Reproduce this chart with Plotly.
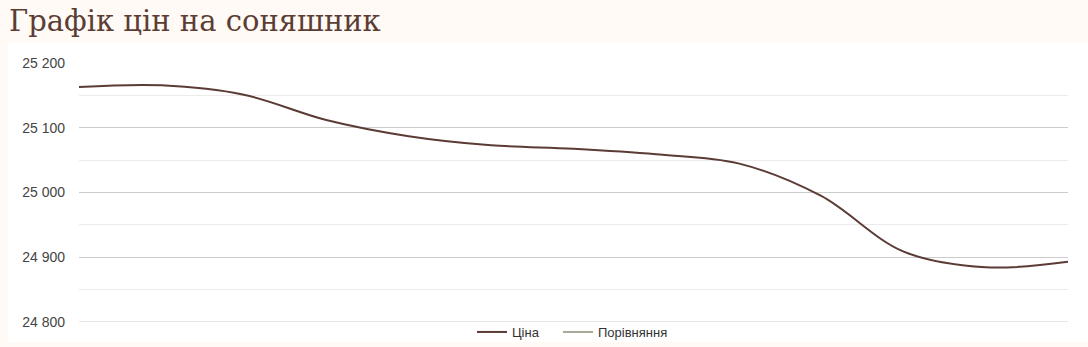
import plotly.graph_objects as go

# Data
points = list(range(13))
price = [25163, 25165.5, 25151, 25112, 25087, 25073, 25067.5, 25059, 25045, 24995, 24909, 24884.5, 24893]
compare = [None] * 13
series_names = ["Ціна", "Порівняння"]
title_text = "Графік цін на соняшник"
y_ticks = [24800, 24900, 25000, 25100, 25200]

W, H = 1088, 347
L, R, T, B = 79, 20, 63, 25
pw, ph = W - L - R, H - T - B

def px(x):
    return (x - L) / pw

def py(y):
    return (H - B - y) / ph

fig = go.Figure()
fig.add_trace(go.Scatter(x=points, y=price, mode="lines", name=series_names[0],
                         line=dict(color="#5b3b35", width=2, shape="spline", smoothing=1.0),
                         hoverinfo="skip", legend="legend"))
fig.add_trace(go.Scatter(x=points, y=compare, mode="lines", name=series_names[1],
                         line=dict(color="#a8a898", width=2), hoverinfo="skip", legend="legend2"))

fig.add_shape(type="rect", xref="paper", yref="paper", x0=px(8), x1=px(1088), y0=py(342), y1=py(43),
              fillcolor="white", line_width=0, layer="below")
# bottom gridline at the lowest tick
fig.add_shape(type="line", xref="paper", yref="y", x0=0, x1=1, y0=y_ticks[0], y1=y_ticks[0],
              line=dict(color="#cccccc", width=1), layer="below")

fig.add_annotation(text=title_text, xref="paper", yref="paper", x=px(7), y=py(21),
                   xanchor="left", yanchor="middle", showarrow=False,
                   font=dict(family="DejaVu Serif", size=29, color="#5c3d33"))

legend_font = dict(family="Liberation Sans, Arial", size=13, color="#333333")
fig.update_layout(
    width=W, height=H, margin=dict(l=L, r=R, t=T, b=B, autoexpand=False),
    paper_bgcolor="#fffaf6", plot_bgcolor="rgba(0,0,0,0)",
    separators=", ",
    showlegend=True,
    legend=dict(orientation="h", x=px(472), xanchor="left", y=py(332), yanchor="middle",
                font=legend_font, bgcolor="rgba(0,0,0,0)", itemwidth=30),
    legend2=dict(orientation="h", x=px(558), xanchor="left", y=py(332), yanchor="middle",
                 font=legend_font, bgcolor="rgba(0,0,0,0)", itemwidth=30),
    xaxis=dict(range=[0, 12], visible=False, showgrid=False, zeroline=False),
    yaxis=dict(range=[24800, 25200], tickvals=y_ticks, tickformat=",d",
               showgrid=True, gridcolor="#cccccc", gridwidth=1, zeroline=False,
               showline=False, ticks="", ticklabelstandoff=13,
               tickfont=dict(family="Liberation Sans, Arial", size=14, color="#444444"),
               minor=dict(dtick=50, tick0=24800, showgrid=True, gridcolor="#ebebeb", gridwidth=1)),
)

fig.write_html("out.html")
